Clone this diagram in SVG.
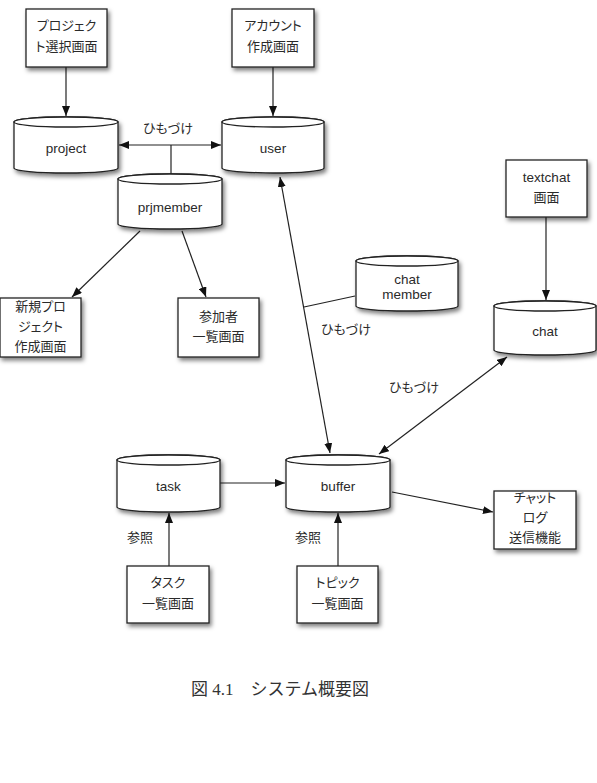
<svg xmlns="http://www.w3.org/2000/svg" width="597" height="783" viewBox="0 0 597 783">
  <style>
    .box { fill: #fff; stroke: #222; stroke-width: 1.3; }
    .cyl { fill: #fff; stroke: #222; stroke-width: 1.3; }
    .lbl { font-family: "Liberation Sans", "Noto Sans CJK JP", sans-serif; font-size: 13px; fill: #2a2a2a; text-anchor: middle; font-feature-settings: "palt"; }
    .en { font-size: 13.5px; }
    .edge { fill: none; stroke: #222; stroke-width: 1.2; }
    .cap { font-family: "Liberation Serif", "Noto Sans CJK JP", serif; font-size: 17px; fill: #333; }
  </style>
  <defs>
    <filter id="shadow" x="-20%" y="-20%" width="150%" height="160%">
      <feDropShadow dx="2" dy="3" stdDeviation="2" flood-color="#000" flood-opacity="0.5"/>
    </filter>
    <marker id="arrow" viewBox="0 0 10 8" refX="10" refY="4" markerWidth="10" markerHeight="8" markerUnits="userSpaceOnUse" orient="auto-start-reverse">
      <path d="M0,0 L10,4 L0,8 z" fill="#111"/>
    </marker>
  </defs>

  <rect width="597" height="783" fill="#fff"/>

  <!-- connectors -->
  <g id="connectors">
    <path class="edge" d="M66,67 V116" marker-end="url(#arrow)"/>
    <path class="edge" d="M273,67 V116" marker-end="url(#arrow)"/>
    <path class="edge" d="M119,145 H221" marker-start="url(#arrow)" marker-end="url(#arrow)"/>
    <path class="edge" d="M171,145 V174"/>
    <path class="edge" d="M140,231 L72,297" marker-end="url(#arrow)"/>
    <path class="edge" d="M182,231 L206,297" marker-end="url(#arrow)"/>
    <path class="edge" d="M280,177 L330,453" marker-start="url(#arrow)" marker-end="url(#arrow)"/>
    <path class="edge" d="M355,296 L304,307"/>
    <path class="edge" d="M546,217 V300" marker-end="url(#arrow)"/>
    <path class="edge" d="M507,357 L379,454" marker-start="url(#arrow)" marker-end="url(#arrow)"/>
    <path class="edge" d="M220,483 H285" marker-end="url(#arrow)"/>
    <path class="edge" d="M392,492 L493,512" marker-end="url(#arrow)"/>
    <path class="edge" d="M169,566 V513" marker-end="url(#arrow)"/>
    <path class="edge" d="M338,566 V513" marker-end="url(#arrow)"/>
    <text class="lbl" x="168" y="132.5">ひもづけ</text>
    <text class="lbl" x="346" y="333.5">ひもづけ</text>
    <text class="lbl" x="414" y="391.5">ひもづけ</text>
    <text class="lbl" x="140" y="541.5">参照</text>
    <text class="lbl" x="308" y="541.5">参照</text>
  </g>

  <!-- screens -->
  <g id="project-select">
    <rect class="box" x="26" y="9" width="81" height="58" filter="url(#shadow)"/>
    <text class="lbl" x="66.5" y="29.5">プロジェク</text>
    <text class="lbl" x="66.5" y="50.5">ト選択画面</text>
  </g>
  <g id="account-create">
    <rect class="box" x="232" y="9" width="82" height="58" filter="url(#shadow)"/>
    <text class="lbl" x="273" y="29.5">アカウント</text>
    <text class="lbl" x="273" y="50.5">作成画面</text>
  </g>
  <g id="project-new">
    <rect class="box" x="0" y="298" width="81" height="59" filter="url(#shadow)"/>
    <text class="lbl" x="40.5" y="310.5">新規プロ</text>
    <text class="lbl" x="40.5" y="330.5">ジェクト</text>
    <text class="lbl" x="40.5" y="350.5">作成画面</text>
  </g>
  <g id="member-list">
    <rect class="box" x="178" y="298" width="81" height="59" filter="url(#shadow)"/>
    <text class="lbl" x="218.5" y="320.5">参加者</text>
    <text class="lbl" x="218.5" y="340.5">一覧画面</text>
  </g>
  <g id="textchat-screen">
    <rect class="box" x="506" y="160" width="81" height="57" filter="url(#shadow)"/>
    <text class="lbl en" x="546.5" y="181.5">textchat</text>
    <text class="lbl" x="546.5" y="201.5">画面</text>
  </g>
  <g id="chatlog-send">
    <rect class="box" x="494" y="491" width="82" height="58" filter="url(#shadow)"/>
    <text class="lbl" x="535" y="501.5">チャット</text>
    <text class="lbl" x="535" y="521.5">ログ</text>
    <text class="lbl" x="535" y="541.5">送信機能</text>
  </g>
  <g id="task-list">
    <rect class="box" x="127" y="566" width="82" height="57" filter="url(#shadow)"/>
    <text class="lbl" x="168" y="586.5">タスク</text>
    <text class="lbl" x="168" y="607.5">一覧画面</text>
  </g>
  <g id="topic-list">
    <rect class="box" x="297" y="566" width="81" height="57" filter="url(#shadow)"/>
    <text class="lbl" x="337.5" y="586.5">トピック</text>
    <text class="lbl" x="337.5" y="607.5">一覧画面</text>
  </g>

  <!-- data stores -->
  <g id="project">
    <path class="cyl" filter="url(#shadow)" d="M14,122 V168 A52,5 0 0 0 118,168 V122 A52,5 0 0 0 14,122 Z"/>
    <ellipse class="cyl" cx="66" cy="122" rx="52" ry="5"/>
    <text class="lbl en" x="66" y="152.5">project</text>
  </g>
  <g id="user">
    <path class="cyl" filter="url(#shadow)" d="M222,122 V168 A51,5 0 0 0 324,168 V122 A51,5 0 0 0 222,122 Z"/>
    <ellipse class="cyl" cx="273" cy="122" rx="51" ry="5"/>
    <text class="lbl en" x="273" y="152.5">user</text>
  </g>
  <g id="prjmember">
    <path class="cyl" filter="url(#shadow)" d="M118,179 V224 A52,5 0 0 0 222,224 V179 A52,5 0 0 0 118,179 Z"/>
    <ellipse class="cyl" cx="170" cy="179" rx="52" ry="5"/>
    <text class="lbl en" x="170" y="211.5">prjmember</text>
  </g>
  <g id="chat-member">
    <path class="cyl" filter="url(#shadow)" d="M356,261 V306 A51,5 0 0 0 458,306 V261 A51,5 0 0 0 356,261 Z"/>
    <ellipse class="cyl" cx="407" cy="261" rx="51" ry="5"/>
    <text class="lbl en" x="407" y="283.5">chat</text>
    <text class="lbl en" x="407" y="298.5">member</text>
  </g>
  <g id="chat">
    <path class="cyl" filter="url(#shadow)" d="M494,306 V350 A51,5 0 0 0 596,350 V306 A51,5 0 0 0 494,306 Z"/>
    <ellipse class="cyl" cx="545" cy="306" rx="51" ry="5"/>
    <text class="lbl en" x="545" y="335.5">chat</text>
  </g>
  <g id="task">
    <path class="cyl" filter="url(#shadow)" d="M117,460 V507 A51.5,5 0 0 0 220,507 V460 A51.5,5 0 0 0 117,460 Z"/>
    <ellipse class="cyl" cx="168.5" cy="460" rx="51.5" ry="5"/>
    <text class="lbl en" x="168.5" y="490.5">task</text>
  </g>
  <g id="buffer">
    <path class="cyl" filter="url(#shadow)" d="M286,460 V507 A52,5 0 0 0 390,507 V460 A52,5 0 0 0 286,460 Z"/>
    <ellipse class="cyl" cx="338" cy="460" rx="52" ry="5"/>
    <text class="lbl en" x="338" y="490.5">buffer</text>
  </g>

  <text class="cap" x="191" y="695">図 4.1　システム概要図</text>
</svg>
